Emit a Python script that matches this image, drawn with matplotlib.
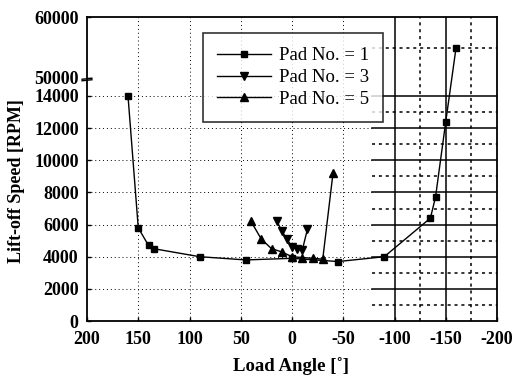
import numpy as np
import matplotlib
matplotlib.use("Agg")
import matplotlib.pyplot as plt

# Lift-off speed vs load angle, three pads
pad1_angle = [160, 150, 140, 135, 90, 45, 0, -45, -90, -135, -140, -150, -160]
pad1_speed = [14000, 5800, 4700, 4500, 4000, 3800, 3900, 3700, 4000, 6400, 7700, 12400, 54900]

pad3_angle = [15, 10, 5, 0, -5, -10, -15]
pad3_speed = [6250, 5600, 5100, 4600, 4500, 4400, 5700]

pad5_angle = [40, 30, 20, 10, 0, -10, -20, -30, -40]
pad5_speed = [6200, 5100, 4500, 4300, 4000, 3950, 3900, 3850, 9200]

x_ticks = [200, 150, 100, 50, 0, -50, -100, -150, -200]
x_tick_labels = ["200", "150", "100", "50", "0", "-50", "-100", "-150", "-200"]
y_ticks = [0, 2000, 4000, 6000, 8000, 10000, 12000, 14000, 50000, 60000]

plt.rcParams['font.family'] = ['Liberation Serif', 'DejaVu Serif']


# broken y axis: 0-14000 big, 14000-50000 squeezed, 50000-60000 short
def fwd(y):
    y = np.asarray(y, float)
    return np.where(y <= 14000, y * 225 / 14000,
                    np.where(y <= 50000, 225 + (y - 14000) * 18 / 36000,
                             243 + (y - 50000) * 61 / 10000))


def inv(d):
    d = np.asarray(d, float)
    return np.where(d <= 225, d * 14000 / 225,
                    np.where(d <= 243, 14000 + (d - 225) * 36000 / 18,
                             50000 + (d - 243) * 10000 / 61))


fig = plt.figure(figsize=(5.13, 3.83), dpi=100)
ax = fig.add_axes([87 / 513, 62 / 383, 410 / 513, 304 / 383])
ax.set_yscale('function', functions=(fwd, inv))
ax.set_xlim(200, -200)
ax.set_ylim(0, 60000)

# fine dotted grid over the main part
dot = dict(color='black', lw=0.7, ls=(0, (1, 3)), zorder=1)
for xv in [150, 100, 50, 0, -50]:
    ax.axvline(xv, **dot)
for yv in range(2000, 14001, 2000):
    ax.plot([200, -78], [yv, yv], **dot)

# right part of the scan: solid major and coarse dotted minor grid
coarse = dict(color='black', lw=1.1, ls=(0, (2, 2.5)), zorder=1)
for xv in [-100, -150]:
    ax.axvline(xv, color='black', lw=1.1, zorder=1)
for xv in [-125, -175]:
    ax.axvline(xv, **coarse)
for yv in range(2000, 14001, 2000):
    ax.plot([-78, -200], [yv, yv], color='black', lw=1.1, zorder=1)
for yv in list(range(1000, 14000, 2000)) + [55000]:
    ax.plot([-78, -200], [yv, yv], **coarse)

ax.plot(pad1_angle, pad1_speed, color='black', lw=1, marker='s', ms=5,
        label='Pad No. = 1', zorder=3)
ax.plot(pad3_angle, pad3_speed, color='black', lw=1, marker='v', ms=6,
        label='Pad No. = 3', zorder=3)
ax.plot(pad5_angle, pad5_speed, color='black', lw=1, marker='^', ms=6,
        label='Pad No. = 5', zorder=3)

ax.set_xticks(x_ticks)
ax.set_xticklabels(x_tick_labels)
ax.set_yticks(y_ticks)
ax.set_yticklabels([str(v) for v in y_ticks])
ax.tick_params(direction='in', length=3, width=1, labelsize=13)
ax.tick_params(axis='x', pad=7)
ax.tick_params(axis='y', pad=6)
for lab in ax.get_xticklabels() + ax.get_yticklabels():
    lab.set_fontweight('bold')
ax.minorticks_off()
for s in ax.spines.values():
    s.set_linewidth(1.3)

# break marks on the left spine
tr = ax.get_yaxis_transform()
ax.plot([-0.012, 0.012], [47500, 49500], color='black', lw=1, transform=tr, clip_on=False, zorder=5)
ax.plot([-0.012, 0.012], [44500, 46500], color='black', lw=1, transform=tr, clip_on=False, zorder=5)

ax.set_ylabel('Lift-off Speed [RPM]', fontsize=13, fontweight='bold')
ax.set_xlabel('Load Angle [\u02da]', fontsize=13.5, fontweight='bold')
ax.yaxis.set_label_coords(-0.151, 0.46)
ax.xaxis.set_label_coords(0.4976, -0.118)

leg = ax.legend(loc='upper left', bbox_to_anchor=(0.283, 0.947), borderaxespad=0,
                fontsize=13.5, handlelength=2.9, frameon=True, fancybox=False,
                borderpad=0.75, labelspacing=0.25, handletextpad=0.4)
leg.get_frame().set_edgecolor('black')
leg.get_frame().set_linewidth(1.2)
leg.set_zorder(6)

fig.savefig('out.png', dpi=100)
